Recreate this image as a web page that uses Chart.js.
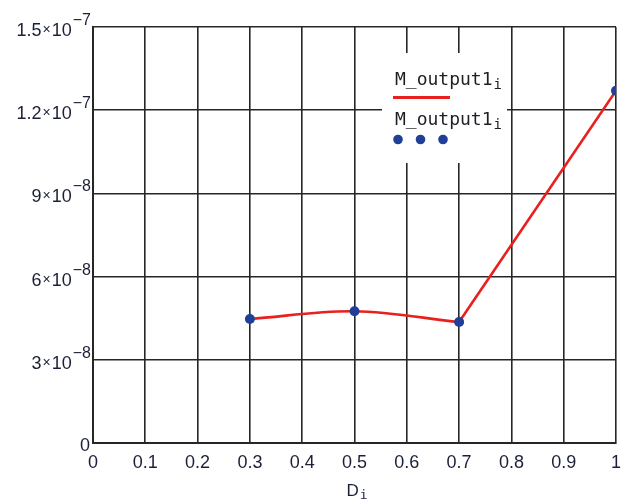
<!DOCTYPE html>
<html>
<head>
<meta charset="utf-8">
<script src="https://cdn.jsdelivr.net/npm/chart.js@4/dist/chart.umd.min.js"></script>
<style>
  html, body { margin: 0; padding: 0; background: #ffffff; }
  #wrap { width: 630px; height: 500px; position: relative; }
</style>
</head>
<body>
<div id="wrap"><canvas id="c" width="630" height="500"></canvas></div>
<script>
// D_i values and the computed moment M_output1_i
const dValues = [0.3, 0.5, 0.7, 1.0];
const mOutput = [4.47e-8, 4.75e-8, 4.36e-8, 1.27e-7];

// axis ticks
const xTickValues = [0, 0.1, 0.2, 0.3, 0.4, 0.5, 0.6, 0.7, 0.8, 0.9, 1];
const xTickLabels = ['0', '0.1', '0.2', '0.3', '0.4', '0.5', '0.6', '0.7', '0.8', '0.9', '1'];
const yTickValues = [0, 3e-8, 6e-8, 9e-8, 1.2e-7, 1.5e-7];
const yTickMantissa = ['0', '3', '6', '9', '1.2', '1.5'];
const yTickExponent = ['', '\u22128', '\u22128', '\u22128', '\u22127', '\u22127'];

const seriesName = 'M_output1';
const seriesSub = 'i';
const axisName = 'D';
const axisSub = 'i';

const RED = '#e8201e';
const BLUE = '#1f3f98';
const GRID = '#262626';
const LABEL = '#1b2038';

const pts = dValues.map((x, i) => ({ x: x, y: mOutput[i] }));
// first three results are joined by a smooth curve, the last step by a straight line
const curvePart = pts.slice(0, 3);
const straightPart = pts.slice(2);

// y labels in a×10^e form, placed on the y scale
const yLabelPlugin = {
  id: 'yLabels',
  afterDraw(chart) {
    const ctx = chart.ctx;
    const ys = chart.scales.y;
    const right = 91;
    ctx.save();
    ctx.fillStyle = LABEL;
    ctx.textAlign = 'right';
    ctx.textBaseline = 'alphabetic';
    yTickValues.forEach((v, i) => {
      const py = ys.getPixelForValue(v);
      if (yTickExponent[i] === '') {
        ctx.font = '18px "Liberation Sans", Arial, sans-serif';
        ctx.fillText(yTickMantissa[i], right - 1, py + 8);
        return;
      }
      let x = right;
      ctx.font = '16px "Liberation Sans", Arial, sans-serif';
      ctx.fillText(yTickExponent[i], x, py - 2);
      x -= ctx.measureText(yTickExponent[i]).width + 1;
      ctx.font = '18px "Liberation Sans", Arial, sans-serif';
      ctx.fillText('10', x, py + 9);
      x -= ctx.measureText('10').width + 1;
      ctx.font = '14px "Liberation Sans", Arial, sans-serif';
      ctx.fillText('\u00d7', x, py + 7);
      x -= ctx.measureText('\u00d7').width + 1;
      ctx.font = '18px "Liberation Sans", Arial, sans-serif';
      ctx.fillText(yTickMantissa[i], x, py + 9);
    });
    ctx.restore();
  }
};

// x axis name with its subscript, centred under the plot
const xTitlePlugin = {
  id: 'xTitle',
  afterDraw(chart) {
    const ctx = chart.ctx;
    const a = chart.chartArea;
    ctx.save();
    ctx.fillStyle = LABEL;
    ctx.textBaseline = 'alphabetic';
    ctx.textAlign = 'left';
    ctx.font = '17px "Liberation Sans", Arial, sans-serif';
    const wD = ctx.measureText(axisName).width;
    ctx.font = '13px "DejaVu Sans Mono", monospace';
    const wI = ctx.measureText(axisSub).width;
    const cx = (a.left + a.right) / 2 + 2;
    const x0 = cx - (wD + wI) / 2;
    ctx.font = '17px "Liberation Sans", Arial, sans-serif';
    ctx.fillText(axisName, x0, 496);
    ctx.font = '13px "DejaVu Sans Mono", monospace';
    ctx.fillText(axisSub, x0 + wD + 1, 499);
    ctx.restore();
  }
};

// legend block: white panel over the grid with line and dot samples
const legendPlugin = {
  id: 'traceLegend',
  afterDatasetsDraw(chart) {
    const ctx = chart.ctx;
    ctx.save();
    ctx.fillStyle = '#ffffff';
    ctx.fillRect(382, 53, 125, 110);

    const drawName = (x, y) => {
      ctx.fillStyle = '#1e1e24';
      ctx.textAlign = 'left';
      ctx.textBaseline = 'alphabetic';
      ctx.font = '18px "DejaVu Sans Mono", monospace';
      ctx.fillText(seriesName, x, y);
      const w = ctx.measureText(seriesName).width;
      ctx.font = '14px "DejaVu Sans Mono", monospace';
      ctx.fillText(seriesSub, x + w + 1, y + 4);
    };

    drawName(395, 85);
    ctx.strokeStyle = RED;
    ctx.lineWidth = 3;
    ctx.beginPath();
    ctx.moveTo(393, 97.5);
    ctx.lineTo(450, 97.5);
    ctx.stroke();

    drawName(395, 125);
    ctx.fillStyle = BLUE;
    [398, 420.5, 443].forEach(x => {
      ctx.beginPath();
      ctx.arc(x, 139.5, 4.8, 0, Math.PI * 2);
      ctx.fill();
    });
    ctx.restore();
  }
};

new Chart(document.getElementById('c'), {
  type: 'scatter',
  data: {
    datasets: [
      {
        label: seriesName + ' points',
        data: pts,
        showLine: false,
        pointRadius: 5,
        pointHoverRadius: 5,
        pointBackgroundColor: BLUE,
        pointBorderColor: BLUE,
        pointBorderWidth: 0,
        order: 0
      },
      {
        label: seriesName + ' curve',
        data: curvePart,
        showLine: true,
        borderColor: RED,
        borderWidth: 2.6,
        tension: 0.35,
        pointRadius: 0,
        fill: false,
        order: 1
      },
      {
        label: seriesName + ' line',
        data: straightPart,
        showLine: true,
        borderColor: RED,
        borderWidth: 2.6,
        tension: 0,
        pointRadius: 0,
        fill: false,
        order: 1
      }
    ]
  },
  options: {
    responsive: false,
    animation: false,
    events: [],
    layout: { padding: { left: 93, top: 27, right: 9, bottom: 0 } },
    plugins: {
      legend: { display: false },
      tooltip: { enabled: false },
      title: { display: false }
    },
    scales: {
      x: {
        type: 'linear',
        min: 0,
        max: 1,
        afterBuildTicks(scale) {
          scale.ticks = xTickValues.map(v => ({ value: v }));
        },
        afterFit(scale) { scale.height = 57; },
        ticks: {
          padding: 9,
          color: LABEL,
          font: { family: '"Liberation Sans", Arial, sans-serif', size: 18 },
          maxRotation: 0,
          autoSkip: false,
          callback: (v, i) => xTickLabels[i]
        },
        grid: { color: GRID, lineWidth: 1.6, drawTicks: false },
        border: { display: true, color: GRID, width: 2 }
      },
      y: {
        type: 'linear',
        min: 0,
        max: 1.5e-7,
        afterBuildTicks(scale) {
          scale.ticks = yTickValues.map(v => ({ value: v }));
        },
        afterFit(scale) { scale.width = 0; },
        ticks: { display: false },
        grid: { color: GRID, lineWidth: 1.6, drawTicks: false },
        border: { display: true, color: GRID, width: 2 }
      }
    }
  },
  plugins: [yLabelPlugin, xTitlePlugin, legendPlugin]
});
</script>
</body>
</html>
